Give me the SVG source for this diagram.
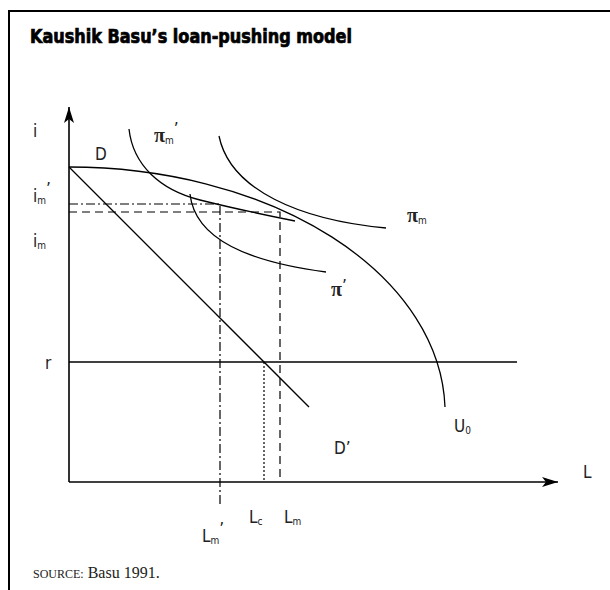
<svg xmlns="http://www.w3.org/2000/svg" width="610" height="590" viewBox="0 0 610 590">
<style>
.lbl{font-family:"DejaVu Sans Condensed","Liberation Sans",sans-serif;font-size:17px;fill:#222}
.sub{font-size:10px}
.pi{font-family:"Liberation Serif","DejaVu Serif",serif;font-size:20px;font-weight:bold;fill:#222}
.ln{fill:none;stroke:#000;stroke-width:1.3}
.ax{fill:none;stroke:#000;stroke-width:1.6}
</style>
<defs>
<marker id="ah" viewBox="0 0 16 10" refX="16" refY="5" markerWidth="16" markerHeight="10" markerUnits="userSpaceOnUse" orient="auto">
<path d="M0,0 L16,5 L0,10 L4,5 Z" fill="#000"/>
</marker>
</defs>
<rect width="610" height="590" fill="#fff"/>
<path d="M9,590 V11 H610" fill="none" stroke="#000" stroke-width="2"/>
<text x="30" y="43" font-family="DejaVu Sans Condensed,Liberation Sans,sans-serif" font-weight="bold" font-size="19" stroke="#000" stroke-width="0.7" textLength="322" lengthAdjust="spacingAndGlyphs">Kaushik Basu’s loan-pushing model</text>

<g id="connectors">
<line class="ax" x1="69" y1="482" x2="69" y2="107" marker-end="url(#ah)"/>
<line class="ax" x1="69" y1="482" x2="558" y2="482" marker-end="url(#ah)"/>
<line class="ln" x1="69" y1="362" x2="517" y2="362"/>
<line class="ln" x1="69" y1="167" x2="309" y2="407"/>
<path class="ln" d="M69,167 A376,246 0 0 1 445,407"/>
<path class="ln" d="M129,129 C133,165 160,190 200,200 S270,216 295,221"/>
<path class="ln" d="M190,194 C195,240 250,262 326,272"/>
<path class="ln" d="M219,136 C230,190 300,220 386,228"/>
<path fill="none" stroke="#000" stroke-width="1.2" stroke-dasharray="9,3,2,3" d="M69,204 H220 V507"/>
<path fill="none" stroke="#000" stroke-width="1.2" stroke-dasharray="8,5" d="M69,212 H280 V482"/>
<line x1="264" y1="362" x2="264" y2="482" stroke="#000" stroke-width="1.2" stroke-dasharray="2,2"/>
</g>

<g id="labels">
<text class="lbl" x="33" y="137">i</text>
<text class="lbl" x="95" y="160">D</text>
<text class="lbl" x="33" y="202">i<tspan class="sub" dy="2">m</tspan><tspan dy="-9">’</tspan></text>
<text class="lbl" x="33" y="247">i<tspan class="sub" dy="2">m</tspan></text>
<text class="lbl" x="45" y="369">r</text>
<text class="pi" x="154" y="142">π<tspan class="lbl sub" font-weight="normal" dy="2">m</tspan><tspan class="lbl" font-weight="normal" dy="-9">’</tspan></text>
<text class="pi" x="407" y="222">π<tspan class="lbl sub" font-weight="normal" dy="2">m</tspan></text>
<text class="pi" x="331" y="296">π<tspan class="lbl" font-weight="normal" dy="-4">’</tspan></text>
<text class="lbl" x="454" y="432">U<tspan class="sub" dy="2">0</tspan></text>
<text class="lbl" x="334" y="454">D’</text>
<text class="lbl" x="583" y="478">L</text>
<text class="lbl" x="249" y="523">L<tspan class="sub" dy="2">c</tspan></text>
<text class="lbl" x="284" y="523">L<tspan class="sub" dy="2">m</tspan></text>
<text class="lbl" x="202" y="542">L<tspan class="sub" dy="2">m</tspan><tspan dy="-9">’</tspan></text>
</g>
<text x="33" y="578" font-family="Liberation Serif,serif" font-size="16" fill="#222"><tspan font-size="12">SOURCE:</tspan> Basu 1991.</text>
</svg>
